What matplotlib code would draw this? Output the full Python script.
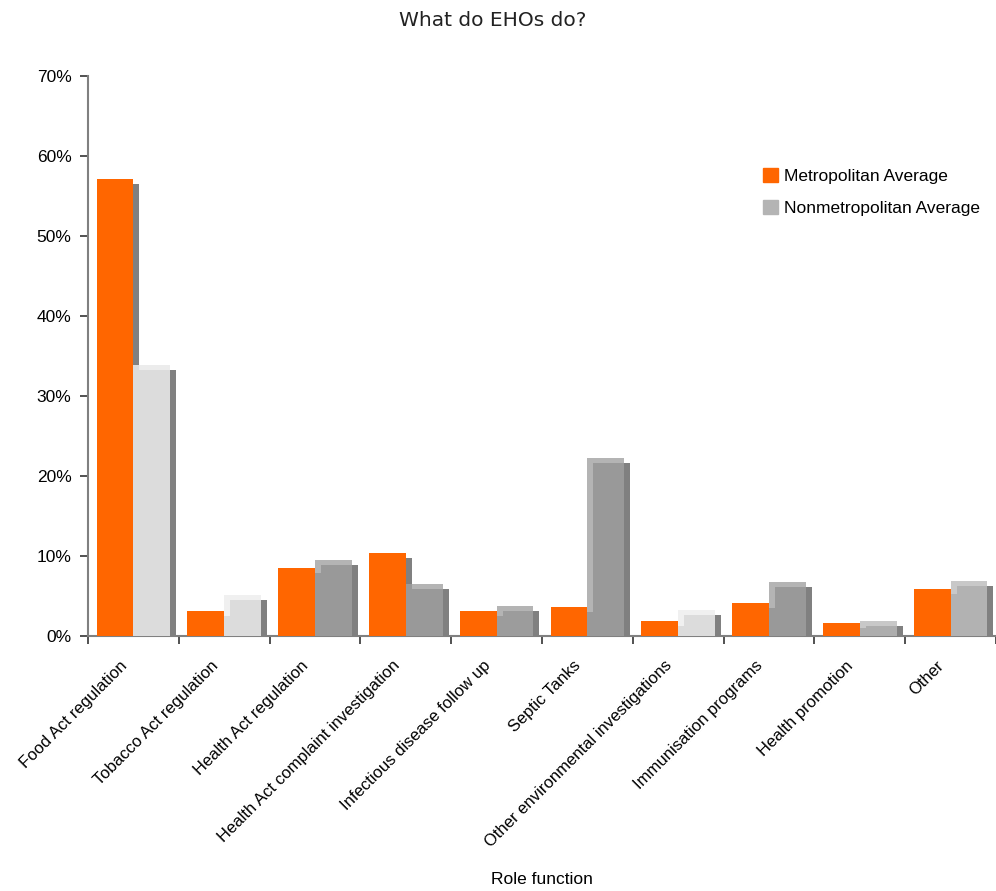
import matplotlib.pyplot as plt
import numpy as np
from matplotlib.patches import Patch
from matplotlib.ticker import FixedLocator, PercentFormatter, NullFormatter
from matplotlib.transforms import ScaledTranslation

# role functions and the share of time spent on each (%)
roles = ['Food Act regulation', 'Tobacco Act regulation', 'Health Act regulation',
         'Health Act complaint investigation', 'Infectious disease follow up',
         'Septic Tanks', 'Other environmental investigations', 'Immunisation programs',
         'Health promotion', 'Other']
metro = [57.1, 3.1, 8.5, 10.4, 3.1, 3.6, 1.9, 4.1, 1.6, 5.9]
nonmetro = [33.9, 5.1, 9.5, 6.5, 3.75, 22.25, 3.25, 6.75, 1.9, 6.9]

# front face / top bevel shades used for each nonmetropolitan bar
nonmetro_face = ['#dcdcdc', '#dcdcdc', '#999999', '#999999', '#9c9c9c',
                 '#999999', '#dcdcdc', '#999999', '#adadad', '#b2b2b2']
nonmetro_top = ['#ececec', '#f0f0f0', '#b4b4b4', '#b4b4b4', '#b4b4b4',
                '#b4b4b4', '#f0f0f0', '#b4b4b4', '#c8c8c8', '#c8c8c8']

ORANGE = '#ff6600'
SHADOW = '#808080'
NARROW = ['Liberation Sans Narrow', 'Liberation Sans', 'DejaVu Sans']

w = 0.405     # bar width (category units)
dx = 0.066    # depth offset sideways
dy = 0.625    # depth offset downwards (%)

fig = plt.figure(figsize=(9.96, 8.91), dpi=100)
ax = fig.add_axes([0.0884, 0.2862, 0.9116, 0.6285])

x = np.arange(len(roles))
m = np.array(metro)
n = np.array(nonmetro)

# shadows of the metropolitan bars
ax.bar(x, m - dy, width=dx, color=SHADOW, align='edge', zorder=1)
# nonmetropolitan bars: top bevel, front face, side shadow
ax.bar(x, n, width=w, color=nonmetro_top, align='edge', zorder=2)
ax.bar(x + dx, n - dy, width=w - dx, color=nonmetro_face, align='edge', zorder=3)
ax.bar(x, np.minimum(m - dy, n), width=dx, color=nonmetro_face, align='edge', zorder=3)
ax.bar(x + w, n - dy, width=dx, color=SHADOW, align='edge', zorder=3)
# metropolitan bars in front
ax.bar(x - w, m, width=w, color=ORANGE, align='edge', zorder=4)

ax.set_xlim(-0.5, len(roles) - 0.5)
ax.set_ylim(0, 70)
ax.yaxis.set_major_locator(FixedLocator(np.arange(0, 71, 10)))
ax.yaxis.set_major_formatter(PercentFormatter(decimals=0))

# category names drawn as rotated text under each group
ax.xaxis.set_major_locator(FixedLocator(x))
ax.xaxis.set_major_formatter(NullFormatter())
label_tr = ax.get_xaxis_transform() + ScaledTranslation(-0.14, -0.22, fig.dpi_scale_trans)
for xi, name in zip(x, roles):
    ax.text(xi, 0, name, transform=label_tr, rotation=45, ha='right', va='top',
            rotation_mode='anchor', family=NARROW, fontsize=12)

ax.xaxis.set_minor_locator(FixedLocator(np.arange(-0.5, len(roles), 1)))
ax.tick_params(axis='x', which='major', length=0)
ax.tick_params(axis='x', which='minor', length=6, width=1.2, color='#333333')
ax.tick_params(axis='y', length=6, width=1.2, color='#333333', pad=6)
for lab in ax.get_yticklabels():
    lab.set_family(NARROW)
    lab.set_fontsize(12.5)

for side in ['top', 'right']:
    ax.spines[side].set_visible(False)
for side in ['left', 'bottom']:
    ax.spines[side].set_color('#808080')
    ax.spines[side].set_linewidth(1.5)

fig.text(0.5445, 1 - 880 / 891, 'Role function', ha='center', va='center',
         family=NARROW, fontsize=12.5)

fig.text(0.495, 0.9775, 'What do EHOs do?', ha='center', va='center',
         family='DejaVu Sans', fontsize=14.5, color='#222222')

handles = [Patch(color=ORANGE, label='Metropolitan Average'),
           Patch(color='#b4b4b4', label='Nonmetropolitan Average')]
fig.legend(handles=handles, loc='upper left', bbox_to_anchor=(0.7595, 0.819),
           frameon=False, prop={'family': NARROW, 'size': 12.5},
           handlelength=0.85, handleheight=0.85, handletextpad=0.35,
           labelspacing=0.9, borderaxespad=0)

fig.savefig('out.png', dpi=100)
